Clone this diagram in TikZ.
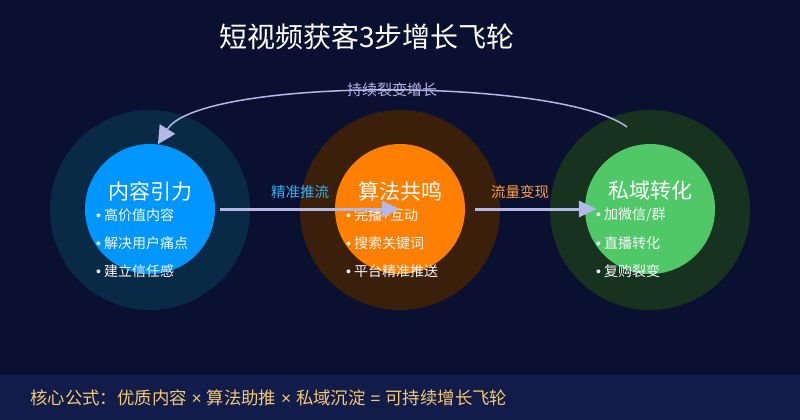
\documentclass[tikz,border=0pt]{standalone}
\usepackage{fontspec}
\setmainfont{Noto Sans CJK SC}
\newfontfamily\latinfont{Liberation Sans}
\usetikzlibrary{arrows.meta}
\definecolor{bgnavy}{HTML}{0A1130}
\definecolor{bandnavy}{HTML}{111C4A}
\definecolor{lavender}{HTML}{B4B8E8}
\definecolor{bluecore}{HTML}{0096FF}
\definecolor{bluering}{HTML}{082A46}
\definecolor{orangecore}{HTML}{FF7F00}
\definecolor{orangering}{HTML}{3A1F0A}
\definecolor{greencore}{HTML}{50C868}
\definecolor{greenring}{HTML}{17331F}
\definecolor{pushblue}{HTML}{33B0F5}
\definecolor{cashorange}{HTML}{FFA040}
\definecolor{gold}{HTML}{F5C870}
\newcommand{\dotitem}[1]{{\latinfont •} #1}
\newcommand{\op}[1]{{\latinfont\ #1\ }}
\tikzset{
	ring/.style={circle,inner sep=0pt,minimum size=200pt},
	core/.style={circle,inner sep=0pt,minimum size=130pt},
	steptitle/.style={text=white,font=\fontsize{21}{24}\selectfont},
	bullet/.style={anchor=west,inner sep=0pt,text=white!92!lavender,font=\fontsize{14}{16}\selectfont},
	flowlabel/.style={font=\fontsize{14.5}{17}\selectfont},
	flow/.style={-{Triangle[length=18pt,width=16pt]},line width=3pt,draw=lavender},
	loopback/.style={-{Triangle[length=18pt,width=18pt]},line width=1.5pt,draw=lavender}
}
\begin{document}
\begin{tikzpicture}[x=1pt,y=-1pt]
	\fill[bgnavy] (0,0) rectangle (800,420);
	\useasboundingbox (0,0) rectangle (800,420);
	\fill[bandnavy] (0,375) rectangle (800,420);
	\node [text=white,font=\fontsize{28}{32}\selectfont] (title) at (367,37) {短视频获客3步增长飞轮};
	% three wheels
	\node [ring,fill=bluering] (lo) at (150,210) {};
	\node [core,fill=bluecore] (li) at (150,209) {};
	\node [ring,fill=orangering] (mo) at (400,210) {};
	\node [core,fill=orangecore] (mi) at (400,209) {};
	\node [ring,fill=greenring] (ro) at (650,210) {};
	\node [core,fill=greencore] (ri) at (650,209) {};
	\node [steptitle] (lt) at (150,191) {内容引力};
	\node [steptitle] (mt) at (400,191) {算法共鸣};
	\node [steptitle] (rt) at (650,191) {私域转化};
	\node [bullet] (l1) at (96,215) {\dotitem{高价值内容}};
	\node [bullet] (l2) at (96,243) {\dotitem{解决用户痛点}};
	\node [bullet] (l3) at (96,271) {\dotitem{建立信任感}};
	\node [bullet] (m1) at (346,215) {\dotitem{完播+互动}};
	\node [bullet] (m2) at (346,243) {\dotitem{搜索关键词}};
	\node [bullet] (m3) at (346,271) {\dotitem{平台精准推送}};
	\node [bullet] (r1) at (596,215) {\dotitem{加微信/群}};
	\node [bullet] (r2) at (596,243) {\dotitem{直播转化}};
	\node [bullet] (r3) at (596,271) {\dotitem{复购裂变}};
	% connectors
	\draw [flow,shorten <=5pt] (li.east) -- (mi.center);
	\draw [flow,shorten <=10pt,shorten >=-12pt] (mi.east) -- (ri.west);
	\node [flowlabel,text=pushblue] (push) at (300,192) {精准推流};
	\node [flowlabel,text=cashorange] (cash) at (520,192) {流量变现};
	\coordinate (loopstart) at (627,127);
	\draw [loopback] (loopstart) .. controls (560,77) and (200,77) .. (li.83);
	\node [text=lavender,font=\fontsize{15}{18}\selectfont] (loop) at (392,90) {持续裂变增长};
	% formula band
	\node [anchor=west,inner sep=0pt,text=gold,font=\fontsize{17.4}{20}\selectfont] (formula) at (30,398) {核心公式：优质内容\op{×}算法助推\op{×}私域沉淀\op{=}可持续增长飞轮};
\end{tikzpicture}
\end{document}
